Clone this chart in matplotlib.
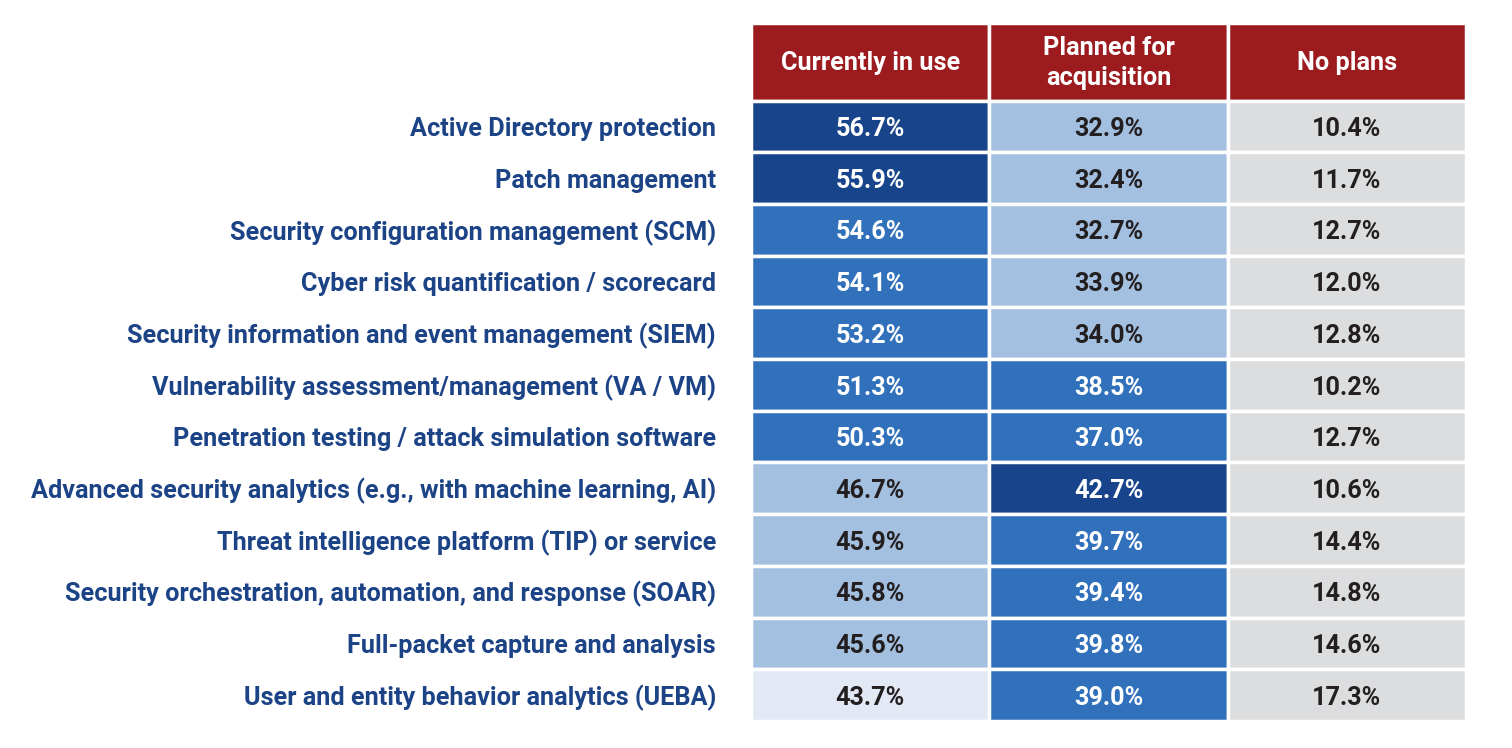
import matplotlib
matplotlib.use("Agg")
import matplotlib.pyplot as plt
from matplotlib.patches import Rectangle

# data
technologies = [
    "Active Directory protection",
    "Patch management",
    "Security configuration management (SCM)",
    "Cyber risk quantification / scorecard",
    "Security information and event management (SIEM)",
    "Vulnerability assessment/management (VA / VM)",
    "Penetration testing / attack simulation software",
    "Advanced security analytics (e.g., with machine learning, AI)",
    "Threat intelligence platform (TIP) or service",
    "Security orchestration, automation, and response (SOAR)",
    "Full-packet capture and analysis",
    "User and entity behavior analytics (UEBA)",
]
columns = ["Currently in use", "Planned for\nacquisition", "No plans"]
currently_in_use = [56.7, 55.9, 54.6, 54.1, 53.2, 51.3, 50.3, 46.7, 45.9, 45.8, 45.6, 43.7]
planned = [32.9, 32.4, 32.7, 33.9, 34.0, 38.5, 37.0, 42.7, 39.7, 39.4, 39.8, 39.0]
no_plans = [10.4, 11.7, 12.7, 12.0, 12.8, 10.2, 12.7, 10.6, 14.4, 14.8, 14.6, 17.3]

# colours
DARK = "#17448a"
MID = "#3171bc"
LIGHT = "#a4c0e0"
PALE = "#e2e8f4"
GRAY = "#dcddde"
HEADER = "#9b1b1e"
LABEL = "#1b4386"
TEXT_DARK = "#231f20"

# shading bins per column (lower bound, colour)
bins = [
    [(55, DARK), (50, MID), (45, LIGHT), (0, PALE)],
    [(42, DARK), (36, MID), (0, LIGHT)],
    [(0, GRAY)],
]

def cell_color(col, v):
    for lo, c in bins[col]:
        if v >= lo:
            return c
    return GRAY

plt.rcParams["font.family"] = ["Roboto", "DejaVu Sans"]
fs = 18.2

W, H = 1512, 748
fig = plt.figure(figsize=(W / 100, H / 100), dpi=100)
left, right, top, bottom = 751, 1466, 23, 721
ax = fig.add_axes([left / W, (H - bottom) / H, (right - left) / W, (bottom - top) / H])
header_h = 1.5
n = len(technologies)
ax.set_xlim(0, 3)
ax.set_ylim(n, -header_h)
ax.axis("off")

values = [currently_in_use, planned, no_plans]
for j, name in enumerate(columns):
    ax.add_patch(Rectangle((j, -header_h), 1, header_h, facecolor=HEADER,
                           edgecolor="white", lw=2.5, clip_on=False))
    ax.text(j + 0.5, -header_h / 2 + 0.02, name, ha="center", va="center", color="white",
            fontsize=fs, fontweight="bold", linespacing=1.3)
    for i, v in enumerate(values[j]):
        c = cell_color(j, v)
        ax.add_patch(Rectangle((j, i), 1, 1, facecolor=c, edgecolor="white",
                               lw=2.5, clip_on=False))
        tc = "white" if c in (DARK, MID) else TEXT_DARK
        ax.text(j + 0.5, i + 0.55, f"{v:.1f}%", ha="center", va="center",
                color=tc, fontsize=fs, fontweight="bold")

for i, t in enumerate(technologies):
    ax.text(-0.147, i + 0.55, t, ha="right", va="center", color=LABEL,
            fontsize=fs, fontweight="bold")

fig.savefig("out.png", dpi=100, facecolor="white")
